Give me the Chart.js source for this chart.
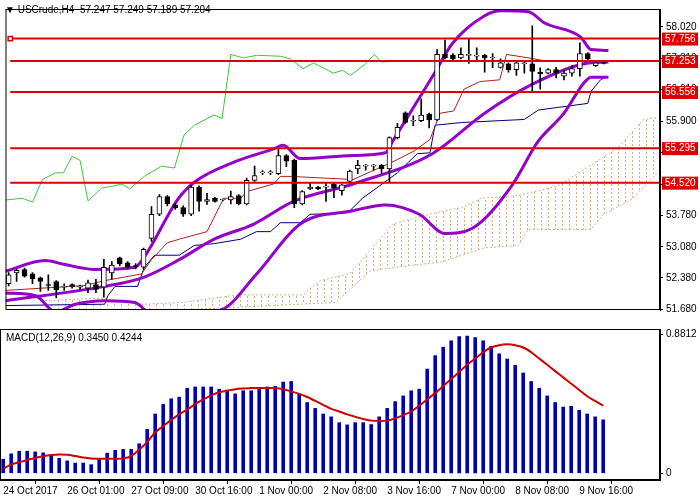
<!DOCTYPE html>
<html>
<head>
<meta charset="utf-8">
<script src="https://cdn.jsdelivr.net/npm/chart.js@4/dist/chart.umd.min.js"></script>
<style>
  body { margin: 0; background: #fff; width: 700px; height: 500px; overflow: hidden; }
  canvas { position: absolute; left: 0; }
  #price { top: 0; }
  #macd { top: 320px; }
</style>
</head>
<body>
<canvas id="price" width="700" height="319"></canvas>
<canvas id="macd" width="700" height="180"></canvas>
<script>
// Candles (H4 bars, index 0 = 24 Oct 2017)
const opens = [52.25,52.49,52.57,52.47,52.38,52.22,52.30,52.17,52.23,52.17,52.15,52.23,52.17,52.49,52.83,52.72,52.66,52.62,53.27,53.81,
  54.21,54.02,53.96,53.81,54.42,54.10,54.17,54.13,54.13,54.23,54.04,54.57,54.74,54.74,54.72,55.13,55.02,54.04,54.38,54.42,
  54.42,54.49,54.34,54.55,54.83,54.89,54.89,54.91,54.83,55.53,56.09,55.90,55.91,56.06,55.93,57.40,57.38,57.32,57.38,57.36,
  57.38,57.32,57.11,57.19,57.06,57.19,57.19,57.00,56.98,57.06,56.91,56.98,57.08,57.42,57.15,57.247];
const highs = [52.50,52.58,52.60,52.50,52.40,52.45,52.32,52.25,52.25,52.22,52.33,52.35,52.80,52.75,52.85,52.75,52.70,53.05,53.98,54.25,
  54.23,54.05,54.00,54.45,54.45,54.28,54.19,54.15,54.33,54.25,54.62,54.89,54.79,54.79,55.30,55.15,55.05,54.34,54.52,54.44,
  54.52,54.51,54.49,54.80,55.02,54.93,54.93,54.93,55.55,55.85,56.11,56.02,56.40,56.08,57.51,57.72,57.42,57.55,57.74,57.55,
  57.40,57.42,57.30,57.21,57.23,57.23,58.04,57.10,57.08,57.11,57.05,57.15,57.66,57.44,57.23,57.249];
const lows = [52.20,52.30,52.40,52.25,52.08,52.10,51.93,52.10,52.15,52.12,52.05,52.05,51.95,52.35,52.65,52.58,52.58,52.58,53.20,53.78,
  54.00,53.92,53.76,53.78,53.88,54.03,54.08,54.11,54.04,54.02,54.02,54.55,54.70,54.70,54.70,54.88,53.96,54.02,54.36,54.36,
  54.10,54.18,54.24,54.50,54.72,54.80,54.80,54.72,54.53,55.50,55.85,55.80,55.89,55.75,55.91,57.30,57.28,57.30,57.20,57.28,
  57.00,57.10,57.09,57.00,56.93,56.98,56.55,56.62,56.96,56.87,56.83,56.91,56.91,57.28,57.13,57.189];
const closes = [52.45,52.55,52.42,52.36,52.30,52.21,52.11,52.17,52.19,52.17,52.27,52.12,52.62,52.67,52.70,52.62,52.62,53.02,53.81,54.21,
  54.04,53.96,53.81,54.42,54.10,54.14,54.10,54.13,54.21,54.04,54.57,54.68,54.74,54.74,55.13,55.00,54.04,54.32,54.42,54.38,
  54.42,54.40,54.47,54.78,54.91,54.89,54.89,54.83,55.53,55.76,55.87,55.90,56.04,55.93,57.40,57.32,57.30,57.40,57.38,57.36,
  57.32,57.32,57.21,57.06,57.21,57.19,57.02,56.96,57.06,56.98,56.98,57.08,57.42,57.30,57.21,57.204];

// Indicator lines as [bar index, price]
const bbUpper = [[-0.4,52.53],[4.6,52.77],[7.1,52.68],[10.9,52.57],[15.9,52.62],[17.1,52.85],[18,53.11],[21.25,54.13],[23.4,54.53],
  [28.4,54.98],[33.4,55.28],[34.6,55.36],[36.75,55.06],[43.4,55.13],[47.5,55.19],[48.4,55.45],[53.75,57.0],[55.9,57.64],
  [60,58.27],[62.1,58.38],[65.5,58.36],[67.5,58.11],[72.1,57.79],[73.4,57.51],[75.6,57.49]];
const bbMiddle = [[-0.4,51.87],[12.1,52.19],[17.1,52.40],[21.5,52.79],[25.9,53.25],[30.9,53.59],[35.9,54.10],[43.4,54.49],
  [53.4,55.17],[60,56.08],[65.9,56.72],[72.5,57.19],[75.6,57.23]];
const bbLower = [[-0.4,52.04],[3.4,51.98],[5.9,51.62],[8.4,51.79],[12.1,51.87],[15.9,51.83],[18.4,51.51],[26.75,51.66],
  [31.25,52.47],[36.75,53.59],[43.4,53.89],[47.5,54.02],[51.75,53.81],[55,53.38],[58.4,53.49],[63.4,54.45],[66.75,55.45],
  [70,56.08],[72.5,56.76],[73.4,56.89],[75.6,56.89]];
const tenkan = [[-0.4,52.10],[9.6,52.21],[12.1,52.32],[16.75,52.47],[18,52.79],[20,53.17],[21.5,53.25],[25,53.42],[27.1,54.17],
  [29.25,54.17],[30,54.32],[33.4,54.49],[34.25,54.66],[35.6,54.66],[43.4,54.59],[48.1,54.96],[51.1,55.23],[53.1,55.49],
  [54.4,56.08],[56.1,56.13],[57.4,56.62],[59.4,56.79],[61.9,56.83],[62.75,57.40],[65.6,57.32],[67.75,57.25],[75.25,57.25]];
const kijun = [[-0.4,51.76],[12.1,51.79],[12.5,51.98],[13.4,52.19],[16.25,52.19],[17.1,52.62],[18.4,52.89],[21.5,52.89],
  [23.4,53.11],[25.9,53.15],[29.25,53.25],[31.25,53.42],[33,53.42],[34.25,53.62],[36.75,53.62],[38,53.81],[42.1,53.83],
  [43,53.89],[44.6,54.17],[49,54.74],[51.5,55.17],[53.1,55.19],[53.75,55.81],[57.1,55.87],[65,55.94],[66.75,56.15],
  [73,56.30],[73.4,56.57],[74.6,56.83],[75.25,56.89]];
const chikou = [[-0.4,54.13],[1.75,54.17],[3,54.08],[4.25,54.59],[5.9,54.74],[6.9,54.74],[8,55.11],[9,55.02],[10,54.11],
  [11.75,54.40],[13.4,54.45],[14.25,54.49],[15.25,54.38],[17.1,54.66],[19.25,54.89],[20.9,54.85],[22.1,55.59],[23.4,55.81],
  [25.9,56.04],[26.9,55.96],[28,57.40],[29.6,57.32],[31.25,57.38],[34.25,57.36],[35.5,57.30],[37.1,57.08],[38.4,57.21],
  [40.9,56.98],[42.1,57.04],[43.1,56.93],[45,57.19],[46.1,57.40],[46.9,57.23],[49.6,57.25]];
const cloudTop = [[4.6,51.87],[11.5,51.93],[17.1,51.79],[22.1,51.83],[28.75,52.0],[37.1,52.0],[39.25,52.32],[43,52.47],
  [48.4,53.59],[53,53.81],[57.1,53.96],[59.6,54.17],[64.25,54.23],[69.25,54.45],[72.5,54.81],[76.75,55.30],[80,55.94],[82.1,55.98]];
const cloudBottom = [[4.6,51.66],[17.1,51.62],[41.25,51.83],[45.5,52.53],[48.75,52.62],[54.6,52.74],[60,53.06],[64.25,53.11],
  [65.5,53.47],[73.4,53.47],[75,53.81],[78.75,54.17],[82.1,54.81]];

const levels = [57.756, 57.253, 56.556, 55.295, 54.520];
const priceTicks = [51.68, 52.38, 53.08, 53.78, 54.48, 55.20, 55.90, 56.61, 57.31, 58.02];

// MACD(12,26,9)
const macdHist = [0.089,0.124,0.140,0.140,0.136,0.130,0.116,0.095,0.079,0.065,0.065,0.055,0.087,0.128,0.146,0.152,0.152,0.188,0.280,0.377,
  0.438,0.474,0.484,0.541,0.549,0.549,0.549,0.535,0.529,0.505,0.525,0.525,0.535,0.549,0.553,0.580,0.584,0.505,0.450,0.413,
  0.377,0.359,0.322,0.308,0.322,0.322,0.310,0.359,0.413,0.456,0.492,0.525,0.535,0.663,0.748,0.802,0.843,0.869,0.873,0.863,
  0.843,0.808,0.760,0.727,0.687,0.638,0.584,0.541,0.492,0.450,0.421,0.426,0.401,0.377,0.359,0.340];
const macdSignal = [0.028,0.055,0.07,0.085,0.097,0.108,0.116,0.12,0.118,0.11,0.1,0.094,0.093,0.093,0.093,0.095,0.11,0.15,0.2,0.26,
  0.3,0.34,0.375,0.405,0.44,0.47,0.495,0.515,0.525,0.535,0.54,0.542,0.543,0.543,0.542,0.535,0.52,0.505,0.485,0.46,
  0.435,0.41,0.393,0.375,0.36,0.345,0.335,0.332,0.335,0.35,0.37,0.393,0.43,0.47,0.51,0.555,0.6,0.645,0.69,0.73,
  0.77,0.8,0.815,0.82,0.815,0.8,0.77,0.73,0.69,0.65,0.61,0.57,0.53,0.49,0.46,0.43];
const dateTicks = [0, 8, 16, 24, 32, 40, 48, 56, 64, 72];
const dateLabels = ["24 Oct 2017","26 Oct 01:00","27 Oct 09:00","30 Oct 16:00","1 Nov 00:00","2 Nov 08:00","3 Nov 16:00","7 Nov 00:00","8 Nov 08:00","9 Nov 16:00"];

const FONT = { family: "Liberation Sans", size: 10 };
const X_MIN = -0.4, X_MAX = 82.1;
const pts = (arr) => arr.map(([x, y]) => ({ x, y }));

// sparse dotted hatch for the kumo
const hatch = (function () {
  const c = document.createElement("canvas");
  c.width = 7; c.height = 4;
  const g = c.getContext("2d");
  g.fillStyle = "#d2b08a";
  g.fillRect(2, 0, 1, 2);
  return g.createPattern(c, "repeat");
})();

const frame = {
  id: "frame",
  afterDraw(chart) {
    const { ctx, chartArea: a } = chart;
    ctx.save();
    ctx.strokeStyle = "#000";
    ctx.lineWidth = 1;
    ctx.strokeRect(a.left + 0.5, a.top + 0.5, a.right - a.left - 1, a.bottom - a.top - 1);
    ctx.restore();
  },
};

const priceExtras = {
  id: "priceExtras",
  afterDraw(chart) {
    const { ctx, chartArea: a } = chart;
    const y = chart.scales.y;
    ctx.save();
    ctx.font = "10px 'Liberation Sans'";
    ctx.textBaseline = "middle";
    levels.forEach((v) => {
      const py = y.getPixelForValue(v);
      ctx.fillStyle = "#e00000";
      ctx.fillRect(a.right + 2, py - 6, 36, 13);
      ctx.fillStyle = "#fff";
      ctx.fillText(v.toFixed(3), a.right + 5, py + 0.5);
    });
    ctx.fillStyle = "#000";
    ctx.fillText("\u25BC USCrude,H4  57.247 57.249 57.189 57.204", 5, 10);
    ctx.restore();
  },
};

const candleBodies = opens.map((o, i) => ({ x: i, y: [o, closes[i]] }));
const candleWicks = opens.map((o, i) => ({ x: i, y: [lows[i], highs[i]] }));

const line = (data, color, width, extra) =>
  Object.assign({ type: "line", data: pts(data), borderColor: color, borderWidth: width, pointRadius: 0, fill: false, tension: 0 }, extra || {});
const smooth = { cubicInterpolationMode: "monotone" };

new Chart(document.getElementById("price"), {
  type: "bar",
  data: {
    datasets: [
      ...levels.map((v, k) => ({
        type: "line",
        data: [{ x: 0.2, y: v }, { x: X_MAX, y: v }],
        borderColor: "#dd0000",
        borderWidth: 2,
        pointStyle: "rect",
        pointRadius: (c) => (k === 0 && c.dataIndex === 0 ? 3 : 0),
        pointBackgroundColor: "#fff",
        pointBorderColor: "#dd0000",
        pointBorderWidth: 1.5,
      })),
      {
        data: candleBodies,
        backgroundColor: (c) => (closes[c.dataIndex] >= opens[c.dataIndex] ? "#fff" : "#000"),
        borderColor: "#000",
        borderWidth: 1,
        borderSkipped: false,
        barThickness: 5,
        minBarLength: 1,
        grouped: false,
      },
      { data: candleWicks, backgroundColor: "#000", barThickness: 1, grouped: false },
      line(bbUpper, "#9400c8", 3, smooth),
      line(bbMiddle, "#9400c8", 3, smooth),
      line(bbLower, "#9400c8", 3, smooth),
      line(tenkan, "#b22020", 1),
      line(kijun, "#000080", 1),
      line(chikou, "#3cc83c", 1),
      line(cloudTop, "#d2b08a", 1, { borderDash: [2, 2], fill: "+1", backgroundColor: hatch }),
      line(cloudBottom, "#d2b08a", 1, { borderDash: [2, 2] }),
    ],
  },
  options: {
    responsive: false,
    animation: false,
    events: [],
    layout: { padding: 0 },
    plugins: { legend: { display: false }, tooltip: { enabled: false } },
    scales: {
      x: { type: "linear", min: X_MIN, max: X_MAX, offset: false, display: false },
      y: {
        position: "right",
        min: 51.66,
        max: 58.42,
        afterFit: (s) => { s.width = 40; },
        afterBuildTicks: (s) => { s.ticks = priceTicks.map((v) => ({ value: v })); },
        ticks: { color: "#000", font: FONT, padding: 3, callback: (v) => v.toFixed(3) },
        grid: { drawOnChartArea: false, color: "#000", tickLength: 3 },
        border: { color: "#000" },
      },
    },
  },
  plugins: [frame, priceExtras],
});

const macdExtras = {
  id: "macdExtras",
  afterDraw(chart) {
    const { ctx, chartArea: a } = chart;
    ctx.save();
    ctx.font = "10px 'Liberation Sans'";
    ctx.fillStyle = "#000";
    ctx.textBaseline = "middle";
    ctx.fillText("MACD(12,26,9) 0.3450 0.4244", a.left + 6, a.top + 9);
    ctx.restore();
  },
};

new Chart(document.getElementById("macd"), {
  type: "bar",
  data: {
    datasets: [
      line(macdSignal.map((v, i) => [i, v]), "#d00000", 2, { tension: 0.4 }),
      {
        data: macdHist.map((v, i) => ({ x: i, y: v })),
        backgroundColor: "#0000b4",
        barThickness: 3,
        grouped: false,
      },
    ],
  },
  options: {
    responsive: false,
    animation: false,
    events: [],
    layout: { padding: { top: 2 } },
    plugins: { legend: { display: false }, tooltip: { enabled: false } },
    scales: {
      x: {
        type: "linear",
        min: X_MIN,
        max: X_MAX,
        offset: false,
        afterFit: (s) => { s.height = 20; },
        afterBuildTicks: (s) => { s.ticks = dateTicks.map((v) => ({ value: v })); },
        ticks: { color: "#000", font: FONT, align: "start", padding: 1, maxRotation: 0, autoSkip: false,
          callback: (v, i) => dateLabels[i] },
        grid: { drawOnChartArea: false, color: "#000", tickLength: 4 },
        border: { color: "#000" },
      },
      y: {
        position: "right",
        min: -0.0426,
        max: 0.9177,
        afterFit: (s) => { s.width = 40; },
        afterBuildTicks: (s) => { s.ticks = [0, 0.8812].map((v) => ({ value: v })); },
        ticks: { color: "#000", font: FONT, padding: 3, callback: (v) => (v === 0 ? "0" : v.toFixed(4)) },
        grid: { drawOnChartArea: false, color: "#000", tickLength: 3 },
        border: { color: "#000" },
      },
    },
  },
  plugins: [frame, macdExtras],
});
</script>
</body>
</html>
